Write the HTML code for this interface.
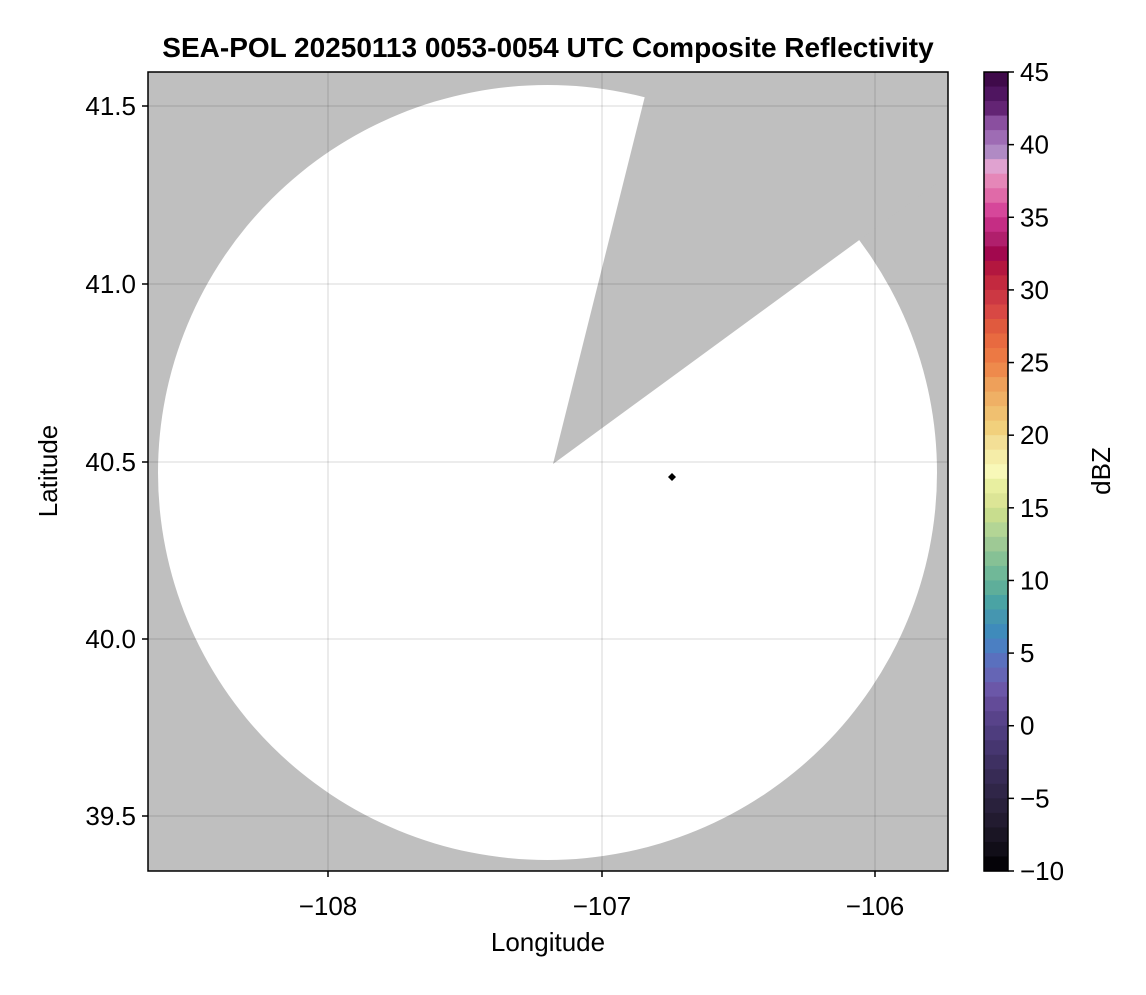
<!DOCTYPE html><html><head><style>
body{margin:0;background:#fff;width:1146px;height:990px;overflow:hidden;font-family:"Liberation Sans",sans-serif}
</style></head><body>
<svg width="1146" height="990" xmlns="http://www.w3.org/2000/svg" font-family="Liberation Sans, sans-serif">
<defs><clipPath id="c"><rect x="148" y="72" width="800" height="799"/></clipPath></defs>
<g clip-path="url(#c)">
<rect x="148" y="72" width="800" height="799" fill="#bfbfbf"/>
<ellipse cx="547.5" cy="472.5" rx="389.5" ry="387.5" fill="#fff"/>
<polygon points="553,464 663,24 1100,24 1100,64" fill="#bfbfbf"/>
<g stroke="rgba(0,0,0,0.12)" stroke-width="1.3">
<line x1="328" y1="72" x2="328" y2="871"/><line x1="602" y1="72" x2="602" y2="871"/><line x1="875" y1="72" x2="875" y2="871"/>
<line x1="148" y1="106" x2="948" y2="106"/><line x1="148" y1="284" x2="948" y2="284"/><line x1="148" y1="462" x2="948" y2="462"/><line x1="148" y1="639" x2="948" y2="639"/><line x1="148" y1="816" x2="948" y2="816"/>
</g>
<polygon points="672,473 676,477 672,481 668,477" fill="#000"/>
</g>
<rect x="148" y="72" width="800" height="799" fill="none" stroke="#000" stroke-width="1.5"/>
<g stroke="#000" stroke-width="1.5">
<line x1="328" y1="871" x2="328" y2="877"/><line x1="602" y1="871" x2="602" y2="877"/><line x1="875" y1="871" x2="875" y2="877"/>
<line x1="142" y1="106" x2="148" y2="106"/><line x1="142" y1="284" x2="148" y2="284"/><line x1="142" y1="462" x2="148" y2="462"/><line x1="142" y1="639" x2="148" y2="639"/><line x1="142" y1="816" x2="148" y2="816"/>
</g>
<g font-size="26" fill="#000">
<text x="328" y="915" text-anchor="middle">−108</text><text x="602" y="915" text-anchor="middle">−107</text><text x="875" y="915" text-anchor="middle">−106</text>
<g text-anchor="end"><text x="136" y="115">41.5</text><text x="136" y="293">41.0</text><text x="136" y="471">40.5</text><text x="136" y="648">40.0</text><text x="136" y="825">39.5</text></g>
<text x="548" y="951" text-anchor="middle">Longitude</text>
<text transform="translate(57,471) rotate(-90)" text-anchor="middle">Latitude</text>
<text transform="translate(1110,471) rotate(-90)" text-anchor="middle">dBZ</text>
</g>
<text x="548" y="57" text-anchor="middle" font-size="28" font-weight="bold">SEA-POL 20250113 0053-0054 UTC Composite Reflectivity</text>
<g id="cb"></g>
<rect x="984" y="72" width="24" height="799" fill="none" stroke="#000" stroke-width="1.5"/>
<g stroke="#000" stroke-width="1.5" id="cbt"></g>
<g font-size="26" id="cbl"></g>
</svg>
<script>
var cols=["#3f0a4a","#4f1560","#632474","#8a4f9f","#9e6cb4","#b08ac4","#e0a2d0","#e587b8","#e06aa8","#d6479a","#c52d84","#b01f6c","#a2084e","#b3173f","#c3293f","#cc3843","#d84844","#e05a3e","#e86a40","#ec7944","#ee8a4c","#eea05a","#efb065","#f0c070","#f1d07c","#f3df96","#f5eda8","#f8f8b8","#e8efa0","#dce596","#c8dd8e","#b3d595","#9ec995","#86c195","#70b898","#5eae9a","#4aa3a4","#4596b0","#3f8bbb","#4b7fc2","#5a70be","#6565b5","#6b57a8","#634b98","#58438a","#4e3d7e","#463670","#3e3062","#372b55","#302648","#29213c","#221b30","#1a1524","#110e18","#050308"];
var ns="http://www.w3.org/2000/svg",g=document.getElementById("cb"),h=799/55;
cols.forEach(function(c,i){var r=document.createElementNS(ns,"rect");r.setAttribute("x",984);r.setAttribute("y",72+i*h);r.setAttribute("width",24);r.setAttribute("height",h+0.6);r.setAttribute("fill",c);g.appendChild(r);});
var t=document.getElementById("cbt"),l=document.getElementById("cbl");
for(var v=45;v>=-10;v-=5){var y=72+(45-v)*h;var ln=document.createElementNS(ns,"line");ln.setAttribute("x1",1008);ln.setAttribute("x2",1014);ln.setAttribute("y1",y);ln.setAttribute("y2",y);t.appendChild(ln);
var tx=document.createElementNS(ns,"text");tx.setAttribute("x",1020);tx.setAttribute("y",y+9);tx.textContent=(v<0?"−"+(-v):v);l.appendChild(tx);}
</script>
</body></html>
